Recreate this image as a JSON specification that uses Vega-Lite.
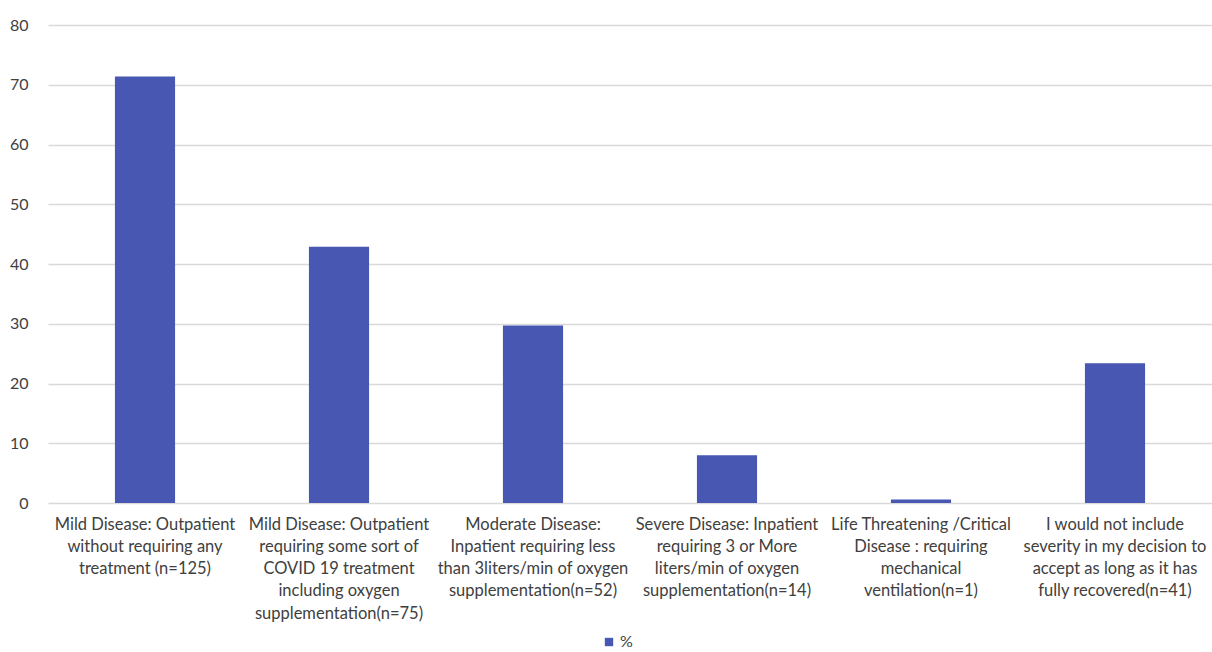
{
  "$schema": "https://vega.github.io/schema/vega-lite/v6.json",
  "width": 1164,
  "height": 478,
  "autosize": {"type": "none"},
  "padding": {"left": 48, "top": 25, "right": 0, "bottom": 149},
  "background": "#ffffff",
  "config": {
    "view": {"stroke": null},
    "font": "Lato"
  },
  "data": {
    "values": [
      {"category": "Mild Disease: Outpatient\nwithout requiring any\ntreatment (n=125)", "series": "%", "percent": 71.4},
      {"category": "Mild Disease: Outpatient\nrequiring some sort of\nCOVID 19 treatment\nincluding oxygen\nsupplementation(n=75)", "series": "%", "percent": 42.9},
      {"category": "Moderate Disease:\nInpatient requiring less\nthan 3liters/min of oxygen\nsupplementation(n=52)", "series": "%", "percent": 29.7},
      {"category": "Severe Disease: Inpatient\nrequiring 3 or More\nliters/min of oxygen\nsupplementation(n=14)", "series": "%", "percent": 8.0},
      {"category": "Life Threatening /Critical\nDisease : requiring\nmechanical\nventilation(n=1)", "series": "%", "percent": 0.6},
      {"category": "I would not include\nseverity in my decision to\naccept as long as it has\nfully recovered(n=41)", "series": "%", "percent": 23.4}
    ]
  },
  "mark": {"type": "bar"},
  "encoding": {
    "x": {
      "field": "category",
      "type": "nominal",
      "sort": null,
      "scale": {"paddingInner": 0.69, "paddingOuter": 0.345},
      "axis": {
        "title": null,
        "labelAngle": 0,
        "labelExpr": "split(datum.value, '\\n')",
        "labelFont": "Lato",
        "labelFontSize": 16.5,
        "labelColor": "#404040",
        "labelLineHeight": 22.3,
        "labelBaseline": "top",
        "labelPadding": 13,
        "labelLimit": 0,
        "domain": false,
        "ticks": false,
        "grid": false
      }
    },
    "y": {
      "field": "percent",
      "type": "quantitative",
      "scale": {"domain": [0, 80]},
      "axis": {
        "title": null,
        "values": [0, 10, 20, 30, 40, 50, 60, 70, 80],
        "labelFont": "Lato",
        "labelFontSize": 16,
        "labelColor": "#404040",
        "labelPadding": 20,
        "domain": false,
        "ticks": false,
        "grid": true,
        "gridColor": "#d9d9d9",
        "gridWidth": 1.5
      }
    },
    "color": {
      "field": "series",
      "type": "nominal",
      "scale": {"range": ["#4857b2"]},
      "legend": {
        "title": null,
        "orient": "none",
        "legendX": 553,
        "legendY": 609,
        "symbolType": "square",
        "symbolSize": 70,
        "symbolStrokeWidth": 0,
        "labelFont": "Lato",
        "labelFontSize": 16,
        "labelColor": "#404040",
        "labelOffset": 3
      }
    }
  }
}
